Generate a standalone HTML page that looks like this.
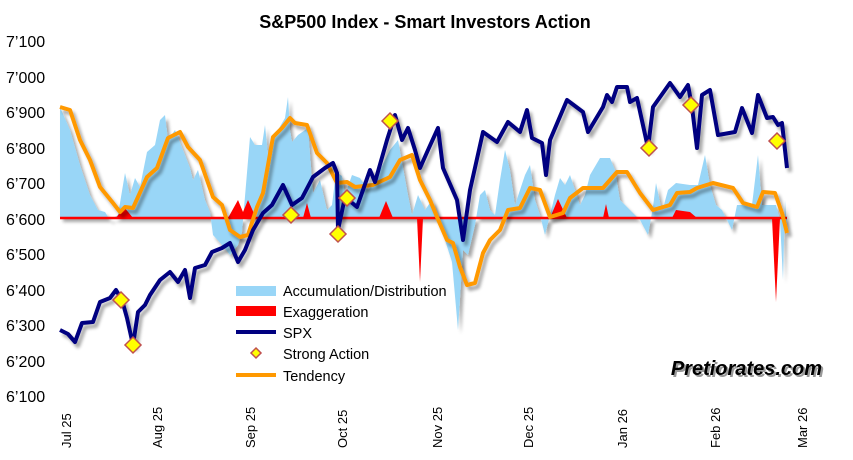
<!DOCTYPE html>
<html><head><meta charset="utf-8"><style>
body{margin:0;background:#fff}
svg{display:block;font-family:"Liberation Sans",Arial,sans-serif}
</style></head><body>
<svg width="853" height="460" viewBox="0 0 853 460" xmlns="http://www.w3.org/2000/svg">
<defs><filter id="sh" x="-5%" y="-5%" width="110%" height="115%"><feGaussianBlur in="SourceAlpha" stdDeviation="1.5"/><feOffset dx="3" dy="4"/><feComponentTransfer><feFuncA type="linear" slope="0.35"/></feComponentTransfer><feMerge><feMergeNode/><feMergeNode in="SourceGraphic"/></feMerge></filter></defs>
<text x="425" y="28" text-anchor="middle" font-size="18" font-weight="bold">S&amp;P500 Index - Smart Investors Action</text>
<g font-size="16" fill="#000">
<text x="6" y="47">7’100</text><text x="6" y="83">7’000</text><text x="6" y="118">6’900</text><text x="6" y="154">6’800</text><text x="6" y="189">6’700</text><text x="6" y="225">6’600</text><text x="6" y="260">6’500</text><text x="6" y="296">6’400</text><text x="6" y="331">6’300</text><text x="6" y="367">6’200</text><text x="6" y="402">6’100</text>
</g>
<g font-size="13" fill="#000">
<text transform="translate(71,448) rotate(-90)">Jul 25</text>
<text transform="translate(162,448) rotate(-90)">Aug 25</text>
<text transform="translate(255,448) rotate(-90)">Sep 25</text>
<text transform="translate(347,448) rotate(-90)">Oct 25</text>
<text transform="translate(442,448) rotate(-90)">Nov 25</text>
<text transform="translate(533,448) rotate(-90)">Dec 25</text>
<text transform="translate(627,448) rotate(-90)">Jan 26</text>
<text transform="translate(720,448) rotate(-90)">Feb 26</text>
<text transform="translate(807,448) rotate(-90)">Mar 26</text>
</g>
<polygon fill="#99d6f7" filter="url(#sh)" points="60,218 60,107 70,130 80,165 90,195 98,210 105,212 110,220 118,215 125,173 130,195 135,178 140,187 147,152 155,145 160,120 165,115 168,140 175,130 185,155 190,168 193,180 198,170 205,200 210,212 213,235 222,245 230,255 238,245 242,232 250,137 255,145 262,145 265,125 268,155 275,135 285,118 288,97 290,130 292,142 298,135 308,128 313,193 320,180 327,210 332,205 336,172 342,176 345,195 352,175 360,178 368,190 375,182 380,170 385,160 390,150 398,140 408,195 412,215 418,195 425,210 432,200 438,215 445,240 452,262 458,330 463,250 468,255 475,225 480,195 485,190 490,210 495,215 500,180 505,150 510,170 515,205 520,190 525,175 530,165 535,200 540,215 545,235 550,215 555,195 560,178 565,185 570,175 575,190 580,205 585,195 590,175 600,158 610,158 615,170 620,200 630,210 640,220 648,235 653,207 656,183 662,212 668,190 676,183 690,185 698,185 705,155 710,185 716,205 722,210 732,230 737,205 752,205 758,155 762,205 776,205 780,220 783,280 785,200 787,235 787,218"/>
<g fill="#ff0000">
<polygon points="116,218 124,207 133,218"/>
<polygon points="228,218 238,200 243,212 248,200 256,218"/>
<polygon points="303,218 307,203 311,218"/>
<polygon points="379,218 386,201 393,218"/>
<polygon points="550,218 558,199 567,218"/>
<polygon points="603,218 606,204 609,218"/>
<polygon points="672,218 676,210 690,212 697,218"/>
<polygon points="417,218 420,282 423,218"/>
<polygon points="772,218 776,302 780,218"/>
</g>
<line x1="60" y1="218" x2="787" y2="218" stroke="#ff0000" stroke-width="2.5"/>
<polyline fill="none" stroke="#ff9900" stroke-width="4" stroke-linejoin="round" filter="url(#sh)" points="60,107 70,110 80,140 90,160 100,187 113,203 120,212 125,207 133,208 147,177 157,168 168,138 180,132 188,147 200,160 213,197 222,205 230,230 240,237 248,235 257,207 263,193 273,137 282,128 290,118 295,123 307,125 317,153 327,163 337,183 347,182 355,187 373,185 390,177 400,160 412,155 420,180 430,200 437,217 447,240 453,243 460,267 467,285 475,283 483,253 490,240 500,230 508,210 520,208 530,188 540,190 550,217 563,213 570,198 583,188 603,188 617,172 627,172 640,193 653,210 670,205 677,193 690,192 697,188 713,183 733,188 743,203 757,207 763,192 775,193 782,213 787,233"/>
<polyline fill="none" stroke="#000080" stroke-width="4" stroke-linejoin="round" filter="url(#sh)" points="60,330 68,334 75,342 82,323 93,322 100,302 110,298 116,290 122,300 127,318 133,345 138,312 145,305 150,295 160,280 170,272 178,282 185,270 190,298 195,268 205,265 212,252 222,248 230,243 238,262 245,250 253,230 263,213 272,205 283,185 292,205 302,198 313,177 325,168 333,163 337,173 338,230 345,197 357,207 370,170 375,182 387,140 395,115 402,140 408,128 415,150 420,168 428,150 438,128 443,168 457,200 463,240 470,190 483,132 497,142 508,122 520,132 527,110 532,138 542,143 546,175 550,140 567,100 583,112 588,132 603,107 607,95 612,102 617,87 627,87 630,102 637,98 648,148 653,107 670,83 680,97 688,85 692,107 697,148 702,95 710,90 718,135 735,132 742,108 752,133 758,95 767,118 773,117 778,125 782,123 787,168"/>
<g fill="#ffff00" stroke="#c0504d" stroke-width="1.5">
<polygon points="121,292 129,300 121,308 113,300"/>
<polygon points="133,337 141,345 133,353 125,345"/>
<polygon points="291,207 299,215 291,223 283,215"/>
<polygon points="338,226 346,234 338,242 330,234"/>
<polygon points="347,190 355,198 347,206 339,198"/>
<polygon points="390,113 398,121 390,129 382,121"/>
<polygon points="649,140 657,148 649,156 641,148"/>
<polygon points="691,97 699,105 691,113 683,105"/>
<polygon points="777,133 785,141 777,149 769,141"/>
</g>
<rect x="236" y="286" width="40" height="10" fill="#99d6f7"/>
<rect x="236" y="306" width="40" height="10" fill="#ff0000"/>
<line x1="236" y1="332" x2="276" y2="332" stroke="#000080" stroke-width="4"/>
<polygon points="256,348 261,353 256,358 251,353" fill="#ffff00" stroke="#c0504d" stroke-width="1.5"/>
<line x1="236" y1="375" x2="276" y2="375" stroke="#ff9900" stroke-width="4"/>
<g font-size="14.5" fill="#000">
<text x="283" y="296">Accumulation/Distribution</text>
<text x="283" y="317">Exaggeration</text>
<text x="283" y="338">SPX</text>
<text x="283" y="359">Strong Action</text>
<text x="283" y="381">Tendency</text>
</g>
<text x="822" y="375" text-anchor="end" font-size="20" font-weight="bold" font-style="italic" fill="#999" transform="translate(2,2)">Pretiorates.com</text>
<text x="822" y="375" text-anchor="end" font-size="20" font-weight="bold" font-style="italic" fill="#000">Pretiorates.com</text>
</svg>
</body></html>
